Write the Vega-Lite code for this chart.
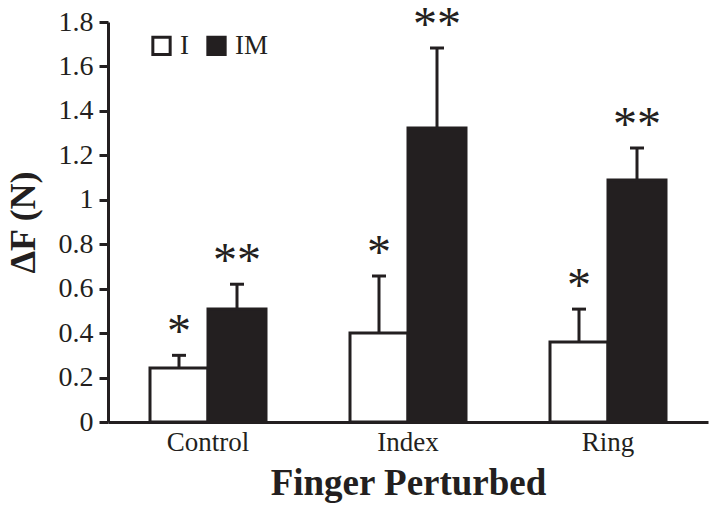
{
  "$schema": "https://vega.github.io/schema/vega-lite/v6.json",
  "width": 600,
  "height": 400,
  "autosize": "none",
  "padding": {"left": 108, "top": 22, "right": 3, "bottom": 86},
  "background": "white",
  "config": {
    "view": {"stroke": null},
    "font": "Liberation Serif",
    "axis": {"labelFont": "Liberation Serif", "titleFont": "Liberation Serif", "domainColor": "#231f20", "tickColor": "#231f20", "labelColor": "#231f20", "titleColor": "#231f20", "domainWidth": 3, "tickWidth": 3, "grid": false}
  },
  "data": {
    "values": [
      {"finger": "Control", "cond": "I", "value": 0.243, "err": 0.30, "sig": "*"},
      {"finger": "Control", "cond": "IM", "value": 0.508, "err": 0.62, "sig": "**"},
      {"finger": "Index", "cond": "I", "value": 0.40, "err": 0.657, "sig": "*"},
      {"finger": "Index", "cond": "IM", "value": 1.323, "err": 1.683, "sig": "**"},
      {"finger": "Ring", "cond": "I", "value": 0.36, "err": 0.508, "sig": "*"},
      {"finger": "Ring", "cond": "IM", "value": 1.089, "err": 1.233, "sig": "**"}
    ]
  },
  "encoding": {
    "x": {
      "field": "finger", "type": "nominal", "sort": ["Control", "Index", "Ring"],
      "scale": {"paddingInner": 0.42, "paddingOuter": 0.21},
      "axis": {"title": "Finger Perturbed", "titleFontSize": 37, "titleFontWeight": "bold", "titlePadding": 10, "labelFontSize": 27, "labelAngle": 0, "ticks": false, "labelPadding": 7}
    },
    "xOffset": {"field": "cond", "type": "nominal", "sort": ["I", "IM"], "scale": {"paddingInner": 0, "paddingOuter": 0}}
  },
  "layer": [
    {
      "mark": {"type": "rule", "stroke": "#231f20", "strokeWidth": 3},
      "encoding": {
        "y": {"field": "value", "type": "quantitative"},
        "y2": {"field": "err"}
      }
    },
    {
      "mark": {"type": "tick", "orient": "horizontal", "size": 14, "thickness": 3, "color": "#231f20", "opacity": 1},
      "encoding": {
        "y": {"field": "err", "type": "quantitative"}
      }
    },
    {
      "mark": {"type": "bar", "stroke": "#231f20", "strokeWidth": 3, "strokeJoin": "miter"},
      "encoding": {
        "y": {
          "field": "value", "type": "quantitative",
          "scale": {"domain": [0, 1.8], "nice": false, "zero": true},
          "axis": {"title": "ΔF (N)", "titleFontSize": 36, "titleFontWeight": "bold", "titlePadding": 16, "labelFontSize": 28, "values": [0, 0.2, 0.4, 0.6, 0.8, 1, 1.2, 1.4, 1.6, 1.8], "format": ".1~f", "labelOverlap": false, "labelBound": false, "tickSize": 9, "labelPadding": 6}
        },
        "fill": {
          "field": "cond", "type": "nominal", "sort": ["I", "IM"],
          "scale": {"domain": ["I", "IM"], "range": ["white", "#231f20"]},
          "legend": {"title": null, "orient": "none", "legendX": 40, "legendY": 10, "direction": "horizontal", "symbolType": "square", "symbolSize": 300, "symbolStrokeColor": "#231f20", "symbolStrokeWidth": 3, "labelFontSize": 27, "labelFont": "Liberation Serif", "labelColor": "#231f20", "labelOffset": 5, "columnPadding": 12}
        }
      }
    },
    {
      "mark": {"type": "text", "fontSize": 48, "font": "Liberation Serif", "baseline": "alphabetic", "dy": -8, "color": "#231f20"},
      "encoding": {
        "y": {"field": "err", "type": "quantitative"},
        "text": {"field": "sig"}
      }
    }
  ]
}
